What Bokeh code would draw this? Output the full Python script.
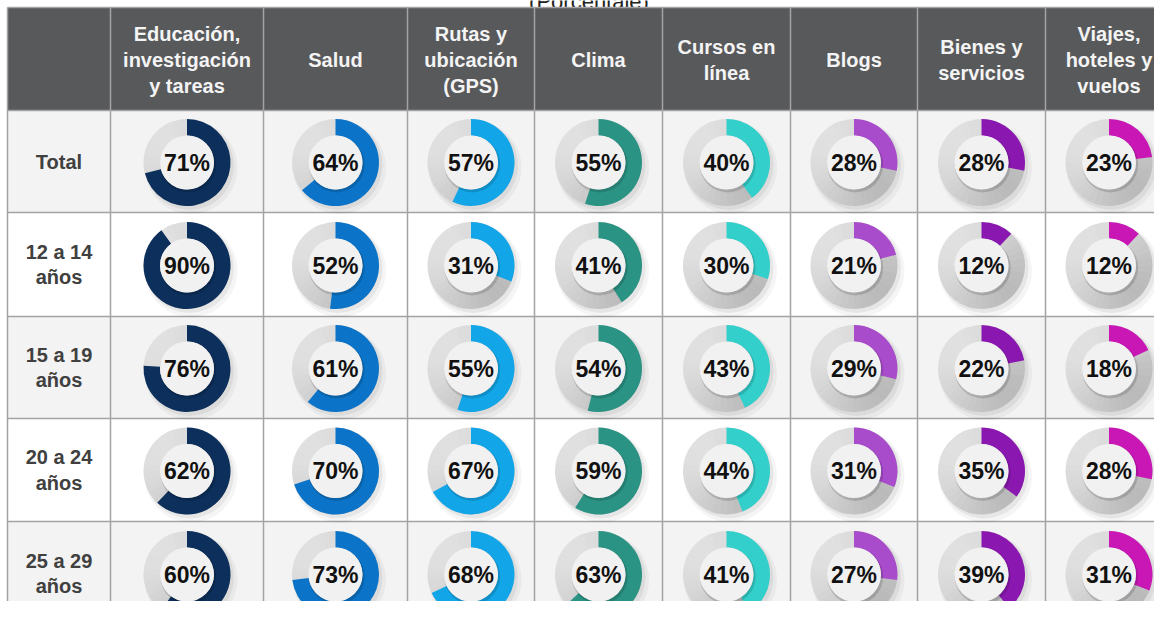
import math
from bokeh.plotting import figure
from bokeh.models import Range1d, ColumnDataSource
from bokeh.embed import file_html
from bokeh.resources import INLINE
from bokeh.core.properties import value

# ---------------- data ----------------
title = "(Porcentaje)"
categories = ["Educación,\ninvestigación\ny tareas", "Salud", "Rutas y\nubicación\n(GPS)",
              "Clima", "Cursos en\nlínea", "Blogs", "Bienes y\nservicios",
              "Viajes,\nhoteles y\nvuelos"]
groups = ["Total", "12 a 14\naños", "15 a 19\naños", "20 a 24\naños", "25 a 29\naños"]
total = [71, 64, 57, 55, 40, 28, 28, 23]
age_12_14 = [90, 52, 31, 41, 30, 21, 12, 12]
age_15_19 = [76, 61, 55, 54, 43, 29, 22, 18]
age_20_24 = [62, 70, 67, 59, 44, 31, 35, 28]
age_25_29 = [60, 73, 68, 63, 41, 27, 39, 31]
series = [total, age_12_14, age_15_19, age_20_24, age_25_29]

# ---------------- style / layout ----------------
colors = ["#0c2f5b", "#0b74c8", "#12a6e8", "#2a9384", "#33d0cb", "#a84ccb", "#8a18b0", "#c917b6"]
W, H = 1154, 601
col_edges = [7, 110, 263, 407, 534, 662, 790, 917, 1045, 1172]
row_edges = [7, 110, 212, 316, 418, 521, 625]
R_OUT, R_IN = 43.5, 27
FONT = value("Liberation Sans")

p = figure(width=W, height=H, x_range=Range1d(0, W), y_range=Range1d(-H, 0),
           output_backend="svg", toolbar_location=None, x_axis_location=None,
           y_axis_location=None, min_border=0)
p.grid.visible = False
p.outline_line_color = None
p.background_fill_color = "white"
p.border_fill_color = "white"

# title (cropped at the top as in the reference)
p.text(x=[(col_edges[0] + col_edges[-2] + 125) / 2], y=[-1], text=[title], text_font=FONT,
       text_font_size="22px", text_color="#222222", text_align="center",
       text_baseline="alphabetic")

# header band
p.quad(left=[col_edges[0]], right=[col_edges[-1]], top=[-row_edges[0]], bottom=[-row_edges[1]],
       fill_color="#58595b", line_color=None)
# row bands
bl, br, bt, bb, bc = [], [], [], [], []
for i in range(len(groups)):
    bl.append(col_edges[0]); br.append(col_edges[-1])
    bt.append(-row_edges[i + 1]); bb.append(-row_edges[i + 2])
    bc.append("#f3f3f3" if i % 2 == 0 else "#ffffff")
p.quad(left=bl, right=br, top=bt, bottom=bb, fill_color=bc, line_color=None)

# grid lines
xs, ys = [], []
for x in col_edges:
    xs.append([x, x]); ys.append([-row_edges[0], -row_edges[-1]])
for y in row_edges:
    xs.append([col_edges[0], col_edges[-1]]); ys.append([-y, -y])
p.multi_line(xs=xs, ys=ys, line_color="#a3a3a3", line_width=1.5)

# header texts
hx = [(col_edges[j + 1] + col_edges[j + 2]) / 2 for j in range(len(categories))]
hy = [-(row_edges[0] + row_edges[1]) / 2 - 1] * len(categories)
p.text(x=hx, y=hy, text=categories, text_font=FONT, text_font_style="bold",
       text_font_size="20px", text_color="#f4f4f4", text_align="center",
       text_baseline="middle", text_line_height=1.17)

# row label texts
rx = [(col_edges[0] + col_edges[1]) / 2] * len(groups)
ry = [-(row_edges[i + 1] + row_edges[i + 2]) / 2 for i in range(len(groups))]
p.text(x=rx, y=ry, text=groups, text_font=FONT, text_font_style="bold",
       text_font_size="20px", text_color="#404040", text_align="center",
       text_baseline="middle", text_line_height=1.15)

# donuts
cx, cy, vals, cols, labels = [], [], [], [], []
for i, row in enumerate(series):
    for j, v in enumerate(row):
        cx.append((col_edges[j + 1] + col_edges[j + 2]) / 2)
        cy.append(-(row_edges[i + 1] + row_edges[i + 2]) / 2 - 1)
        vals.append(v)
        cols.append(colors[j])
        labels.append(f"{v}%")

# outer soft shadow
p.circle(x=[c + 4 for c in cx], y=[c - 5 for c in cy], radius=R_OUT + 3, radius_units="screen",
         fill_color="#000000", fill_alpha=0.04, line_color=None)
p.circle(x=[c + 2.5 for c in cx], y=[c - 3 for c in cy], radius=R_OUT + 1, radius_units="screen",
         fill_color="#000000", fill_alpha=0.06, line_color=None)

# grey track with a light-to-dark shading
NSEG = 36
tx, ty, ta0, ta1, tc = [], [], [], [], []
def lerp_col(a, b, t):
    return "#%02x%02x%02x" % tuple(int(round(a[k] + (b[k] - a[k]) * t)) for k in range(3))
dark, light = (186, 186, 186), (224, 224, 224)
for k in range(NSEG):
    a0 = 2 * math.pi * k / NSEG
    a1 = a0 + 2 * math.pi / NSEG + 0.01
    m = (a0 + a1) / 2
    t = (1 + math.cos(m - math.radians(140))) / 2
    col = lerp_col(dark, light, t ** 0.8)
    for x0, y0 in zip(cx, cy):
        tx.append(x0); ty.append(y0); ta0.append(a0); ta1.append(a1); tc.append(col)
p.annular_wedge(x=tx, y=ty, inner_radius=R_IN, outer_radius=R_OUT, inner_radius_units="screen",
                outer_radius_units="screen", start_angle=ta0, end_angle=ta1,
                fill_color=tc, line_color=None)

# coloured arcs (clockwise from 12 o'clock)
src = ColumnDataSource(dict(x=cx, y=cy, start=[math.pi / 2 - 2 * math.pi * v / 100 for v in vals],
                            end=[math.pi / 2] * len(vals), color=cols, label=labels))
p.annular_wedge(x="x", y="y", inner_radius=R_IN, outer_radius=R_OUT, inner_radius_units="screen",
                outer_radius_units="screen", start_angle="start", end_angle="end",
                direction="anticlock", fill_color="color", line_color=None, source=src)

# inner disc with a small shadow
p.circle(x=[c + 1.2 for c in cx], y=[c - 2 for c in cy], radius=R_IN + 1, radius_units="screen",
         fill_color="#000000", fill_alpha=0.14, line_color=None)
p.circle(x="x", y="y", radius=R_IN, radius_units="screen", fill_color="#f1f1f1",
         line_color=None, source=src)

p.text(x="x", y="y", text="label", text_font=FONT, text_font_style="bold",
       text_font_size="23px", text_color="#111111", text_align="center",
       text_baseline="middle", source=src)

open("out.html", "w").write(file_html(p, INLINE))
